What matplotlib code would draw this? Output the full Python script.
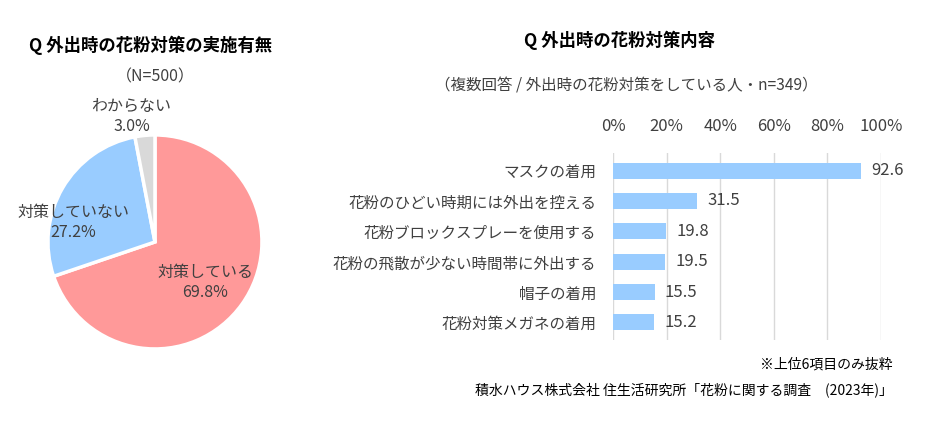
import matplotlib
matplotlib.use("Agg")
import matplotlib.pyplot as plt
import numpy as np

plt.rcParams["font.family"] = ["Noto Sans CJK JP", "DejaVu Sans"]

# pie data
PIE_LABELS = ["対策している", "対策していない", "わからない"]
PIE_VALUES = [69.8, 27.2, 3.0]
PIE_COLORS = ["#FF9999", "#99CCFF", "#D9D9D9"]

# bar data
BAR_LABELS = [
    "マスクの着用",
    "花粉のひどい時期には外出を控える",
    "花粉ブロックスプレーを使用する",
    "花粉の飛散が少ない時間帯に外出する",
    "帽子の着用",
    "花粉対策メガネの着用",
]
BAR_VALUES = [92.6, 31.5, 19.8, 19.5, 15.5, 15.2]
X_TICKS = [0, 20, 40, 60, 80, 100]

TEXT = "#404040"
GRID = "#D9D9D9"

fig = plt.figure(figsize=(9.4, 4.24), dpi=100)

# ---- pie ----
ax_pie = fig.add_axes([0.051, 0.177, 0.2277, 0.5047])
ax_pie.pie(
    PIE_VALUES,
    colors=PIE_COLORS,
    startangle=90,
    counterclock=False,
    wedgeprops=dict(edgecolor="white", linewidth=2.5),
)
ax_pie.set_xlim(-1, 1)
ax_pie.set_ylim(-1, 1)

# label positions as (x, y) in pie units
label_pos = [(0.47, -0.38), (-0.76, 0.18), (-0.22, 1.17)]
for name, val, (lx, ly) in zip(PIE_LABELS, PIE_VALUES, label_pos):
    ax_pie.text(lx, ly, f"{name}\n{val:.1f}%", ha="center", va="center",
                fontsize=11.5, color=TEXT, linespacing=1.25)

fig.text(151 / 940, 1 - 45 / 424, "Q 外出時の花粉対策の実施有無", ha="center",
         va="center", fontsize=12.5, fontweight="bold", color="black")
fig.text(155 / 940, 1 - 77 / 424, "（N=500）", ha="center", va="center",
         fontsize=11.5, color=TEXT)

# ---- bars ----
ax = fig.add_axes([0.6521, 0.1981, 0.2851, 0.441])
y = np.arange(len(BAR_VALUES))
ax.barh(y, BAR_VALUES, height=0.53, color="#99CCFF", zorder=2)
ax.set_xlim(0, 100)
ax.set_ylim(len(BAR_VALUES) - 0.42, -0.58)
ax.set_xticks(X_TICKS)
ax.set_xticklabels([f"{t}%" for t in X_TICKS])
ax.xaxis.tick_top()
ax.tick_params(axis="x", length=0, pad=13, labelsize=12, labelcolor=TEXT)
ax.set_yticks(y)
ax.set_yticklabels(BAR_LABELS)
ax.tick_params(axis="y", length=0, pad=12, labelsize=11.2, labelcolor=TEXT)
ax.grid(axis="x", color=GRID, linewidth=1, zorder=0)
for s in ax.spines.values():
    s.set_visible(False)
for yi, v in zip(y, BAR_VALUES):
    ax.annotate(f"{v:.1f}", (v, yi), xytext=(7.5, 0), textcoords="offset points",
                ha="left", va="center", fontsize=12, color=TEXT)

fig.text(620 / 940, 1 - 40 / 424, "Q 外出時の花粉対策内容", ha="center",
         va="center", fontsize=12.5, fontweight="bold", color="black")
fig.text(626 / 940, 1 - 86 / 424,
         "（複数回答 / 外出時の花粉対策をしている人・n=349）", ha="center",
         va="center", fontsize=11.2, color=TEXT)
fig.text(893 / 940, 1 - 365 / 424, "※上位6項目のみ抜粋", ha="right",
         va="center", fontsize=10, color="black")
fig.text(893 / 940, 1 - 390 / 424,
         "積水ハウス株式会社 住生活研究所「花粉に関する調査　(2023年)」",
         ha="right", va="center", fontsize=10, color="black")

fig.savefig("out.png", dpi=100)
